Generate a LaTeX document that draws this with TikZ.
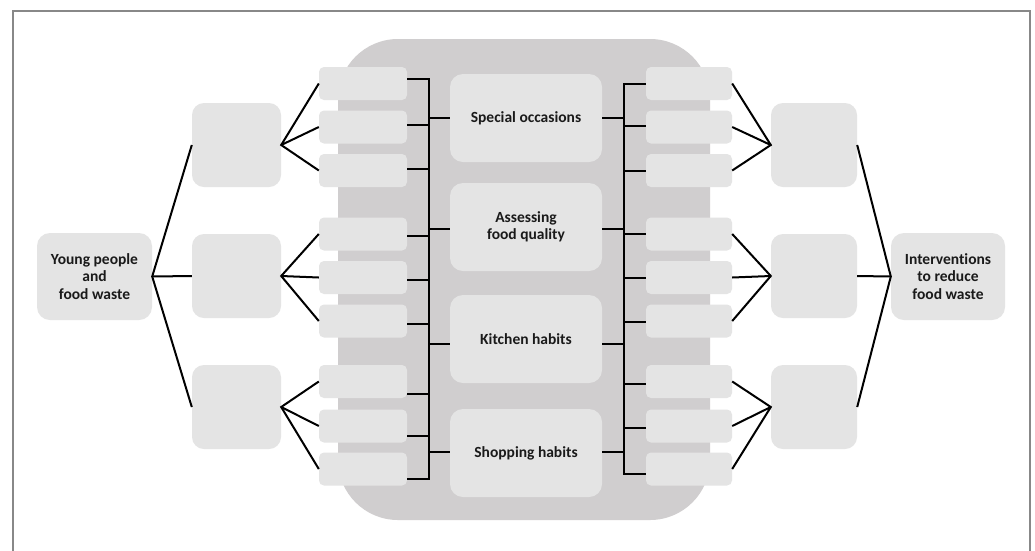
\documentclass[tikz,border=0pt]{standalone}
\usepackage{fontspec}
\setmainfont[Ligatures=NoCommon]{Carlito}
\definecolor{bgc}{HTML}{D0CECF}
\definecolor{boxc}{HTML}{E4E4E4}
\definecolor{framec}{HTML}{888888}
\definecolor{txtc}{HTML}{1A1A1A}
\begin{document}
\begin{tikzpicture}[x=1pt,y=-1pt,
  smallbox/.style={fill=boxc,draw=none,rounded corners=5pt,minimum width=88pt,minimum height=33pt,inner sep=0pt},
  midbox/.style={fill=boxc,draw=none,rounded corners=12pt,minimum width=88pt,minimum height=84pt,inner sep=0pt},
  mainbox/.style={fill=boxc,draw=none,rounded corners=13pt,minimum width=152pt,minimum height=88pt,inner sep=0pt,
    font=\bfseries\fontsize{15.5}{17.5}\selectfont,text=txtc,align=center},
  rootbox/.style={fill=boxc,draw=none,rounded corners=13pt,minimum width=115pt,minimum height=87pt,inner sep=0pt,
    font=\bfseries\fontsize{15.5}{17.5}\selectfont,text=txtc,align=center},
  conn/.style={draw=black,line width=2pt}]
\useasboundingbox (0,0) rectangle (1035,550);
\fill[white] (0,0) rectangle (1035,550);
% frame
\draw[framec,line width=2.5pt] (13,552) -- (13,11) -- (1030,11) -- (1030,552);
% big background
\fill[bgc,rounded corners=60pt] (338,39) rectangle (710,520);
% main boxes
\node[mainbox] (m1) at (526,118) {Special occasions};
\node[mainbox] (m2) at (526,227) {Assessing\\food quality};
\node[mainbox] (m3) at (526,339) {Kitchen habits};
\node[mainbox] (m4) at (526,453) {Shopping habits};
% small boxes
\foreach \n/\y in {1/83.5,2/127,3/170.5,4/234,5/277.5,6/321,7/381.5,8/426,9/469}{
  \node[smallbox] (l\n) at (363,\y) {};
  \node[smallbox,minimum width=86pt] (r\n) at (689,\y) {};
}
% middle boxes
\node[midbox,minimum width=89pt] (la) at (236.5,145) {};
\node[midbox,minimum width=89pt] (lb) at (236.5,276) {};
\node[midbox,minimum width=89pt] (lc) at (236.5,407) {};
\node[midbox,minimum width=86pt] (ra) at (814,145) {};
\node[midbox,minimum width=86pt] (rb) at (814,276) {};
\node[midbox,minimum width=86pt] (rc) at (814,407) {};
% roots
\node[rootbox] (rootL) at (94.5,276.5) {Young people\\and\\food waste};
\node[rootbox,minimum width=114pt] (rootR) at (948,276.5) {Interventions\\to reduce\\food waste};
% bracket coordinates
\coordinate (VL) at (429,0);
\coordinate (VR) at (624,0);
% left bracket
\foreach \n/\d in {1/4.5,2/2,3/1.5,4/-2,5/-2.5,6/-3,7/-12.5,8/-10,9/-10}{
  \draw[conn] ([yshift=\d pt]l\n.east) coordinate (ls\n) -- (ls\n -| VL);
}
\draw[conn,line cap=rect] (ls1 -| VL) -- (ls9 -| VL);
% right bracket
\foreach \n/\d in {1/0,2/1,3/0,4/0,5/0,6/-1,7/-2.5,8/-2,9/-5}{
  \draw[conn] ([yshift=\d pt]r\n.west) coordinate (rs\n) -- (rs\n -| VR);
}
\draw[conn,line cap=rect] (rs1 -| VR) -- (rs9 -| VR);
% main stubs
\foreach \n/\d in {1/0,2/-2,3/-5,4/1}{
  \draw[conn] ([yshift=\d pt]m\n.west) coordinate (mw\n) -- (mw\n -| VL);
  \draw[conn] ([yshift=\d pt]m\n.east) coordinate (me\n) -- (me\n -| VR);
}
% fans left
\foreach \m/\a/\b/\c in {la/1/2/3,lb/4/5/6,lc/7/8/9}{
  \draw[conn,line join=miter] (l\a.west) -- (\m.east) -- (l\c.west);
  \draw[conn] (\m.east) -- (l\b.west);
}
% fans right
\foreach \m/\a/\b/\c in {ra/1/2/3,rb/4/5/6,rc/7/8/9}{
  \draw[conn,line join=miter] (r\a.east) -- (\m.west) -- (r\c.east);
  \draw[conn] (\m.west) -- (r\b.east);
}
% root connectors
\draw[conn,line join=miter] (la.west) -- (rootL.east) -- (lc.west);
\draw[conn] (rootL.east) -- (lb.west);
\draw[conn,line join=miter] (ra.east) -- (rootR.west) -- (rc.east);
\draw[conn] (rootR.west) -- (rb.east);
\end{tikzpicture}
\end{document}
